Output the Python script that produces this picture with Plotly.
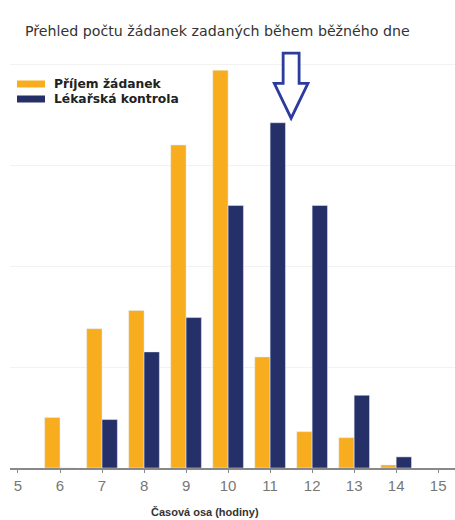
import plotly.graph_objects as go

hours = [6, 7, 8, 9, 10, 11, 12, 13, 14]
prijem = [5.0, 13.8, 15.6, 32.0, 39.4, 11.0, 3.6, 3.0, 0.3]
kontrola = [0.0, 4.8, 11.5, 14.9, 26.0, 34.2, 26.0, 7.2, 1.1]
tick_vals = [5, 6, 7, 8, 9, 10, 11, 12, 13, 14, 15]
tick_text = [str(v) for v in tick_vals]
series_names = ["Příjem žádanek", "Lékařská kontrola"]
title_text = "Přehled počtu žádanek zadaných během běžného dne"
xaxis_title = "Časová osa (hodiny)"
arrow_hour = 11.5

ORANGE = "#F8AD1F"
NAVY = "#252F68"
ARROW = "#2B3C9E"
FONT = "Liberation Sans"

W, H = 455, 520
ML, MR, MT, MB = 10, 0, 45, 52
PW, PH = W - ML - MR, H - MT - MB

def px(x):
    return (x - ML) / PW

def py(y):
    return 1 - (y - MT) / PH

fig = go.Figure()
fig.add_trace(go.Bar(x=hours, y=prijem, marker_color=ORANGE, showlegend=False, name=series_names[0]))
fig.add_trace(go.Bar(x=hours, y=kontrola, marker_color=NAVY, showlegend=False, name=series_names[1]))

# manual legend
for i, (nm, col) in enumerate(zip(series_names, [ORANGE, NAVY])):
    cy = 84 + i * 15
    fig.add_shape(type="rect", xref="paper", yref="paper", x0=px(17), x1=px(45),
                  y0=py(cy + 3.5), y1=py(cy - 3.5), fillcolor=col, line=dict(width=0))
    fig.add_annotation(text=f"<b>{nm}</b>", xref="paper", yref="paper", x=px(52), y=py(cy),
                       xanchor="left", yanchor="middle", showarrow=False,
                       font=dict(family="DejaVu Sans", size=12.3, color="#222222"))

# arrow outline
sw, hw = 0.19, 0.40
top, neck, tip = 41.1, 38.1, 34.65
a = arrow_hour
path = (f"M{a-sw},{top} L{a+sw},{top} L{a+sw},{neck} L{a+hw},{neck} L{a},{tip} "
        f"L{a-hw},{neck} L{a-sw},{neck} Z")
fig.add_shape(type="path", path=path, xref="x", yref="y", line=dict(color=ARROW, width=2.8),
              fillcolor="white", layer="above")

fig.add_annotation(text=f"<b>{xaxis_title}</b>", xref="paper", yref="paper", x=px(205), y=py(512),
                   showarrow=False, font=dict(family=FONT, size=11, color="#333333"),
                   xanchor="center", yanchor="middle")

fig.add_annotation(text=title_text, xref="paper", yref="paper", x=px(23), y=py(31),
                   showarrow=False, font=dict(family="DejaVu Sans", size=14.2, color="#333333"),
                   xanchor="left", yanchor="middle")

fig.update_layout(
    width=W, height=H,
    margin=dict(l=ML, r=MR, t=MT, b=MB),
    paper_bgcolor="white", plot_bgcolor="white",
    barmode="group", bargap=0.27, bargroupgap=0,
    showlegend=False,
    xaxis=dict(range=[4.81, 15.4], tickvals=tick_vals, ticktext=tick_text, showgrid=False,
               showline=True, linecolor="#888888", linewidth=1.5, ticks="outside", ticklen=3,
               tickcolor="#888888", zeroline=False,
               tickfont=dict(family=FONT, size=15, color="#777777")),
    yaxis=dict(range=[0, 41.9], dtick=10, showgrid=True, gridcolor="#F2F2F2", showticklabels=False,
               zeroline=False, showline=False),
)
fig.write_html("out.html")
